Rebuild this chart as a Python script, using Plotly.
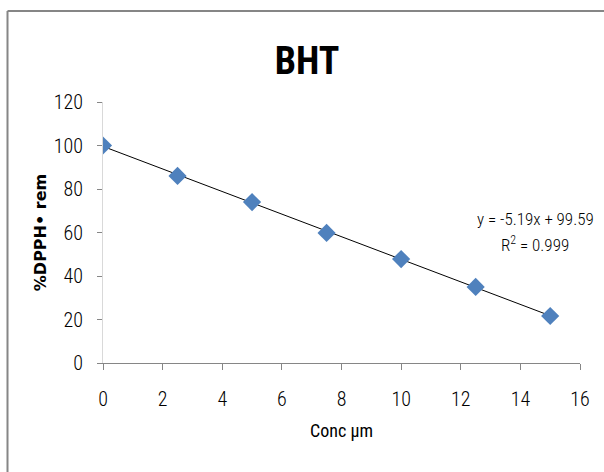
import plotly.graph_objects as go

conc = [0, 2.5, 5, 7.5, 10, 12.5, 15]
dpph_rem = [100, 86, 74, 59.8, 47.8, 35, 21.6]
slope = -5.19
intercept = 99.59
x_ticks = [0, 2, 4, 6, 8, 10, 12, 14, 16]
y_ticks = [0, 20, 40, 60, 80, 100, 120]

FONT = "Roboto Condensed, sans-serif"

fig = go.Figure()
fit_x = [min(conc), max(conc)]
fit_y = [slope * v + intercept for v in fit_x]
fig.add_trace(go.Scatter(x=fit_x, y=fit_y, mode="lines",
                         line=dict(color="black", width=1), showlegend=False))
fig.add_trace(go.Scatter(x=conc, y=dpph_rem, mode="markers",
                         marker=dict(symbol="diamond", size=14, color="#4F81BD",
                                     line=dict(width=0)), showlegend=False))

fig.update_layout(
    width=604, height=472,
    margin=dict(l=103, r=24, t=102, b=109),
    paper_bgcolor="white", plot_bgcolor="white",
    font=dict(family=FONT, size=14, color="black", weight=300),
    title=dict(text="BHT", x=307/604, xanchor="center", y=1-61/472, yanchor="middle",
               font=dict(family=FONT, size=38, color="black", weight=700)),
    xaxis=dict(range=[0, 16], tickvals=x_ticks, showgrid=False, zeroline=False,
               showline=True, linecolor="#868686", linewidth=1,
               ticks="outside", ticklen=6, tickcolor="#868686",
               ticklabelstandoff=12,
               tickfont=dict(family=FONT, size=20, weight=300),
               title=dict(text="Conc µm", font=dict(family=FONT, size=18, weight=400), standoff=14)),
    yaxis=dict(range=[0, 120], tickvals=y_ticks, showgrid=False, zeroline=False,
               showline=True, linecolor="#D9D9D9", linewidth=1,
               ticks="outside", ticklen=5, tickcolor="#868686",
               ticklabelstandoff=10,
               tickfont=dict(family=FONT, size=20, weight=300),
               title=dict(text="<b>%DPPH• rem</b>", font=dict(family="DejaVu Sans, sans-serif", size=16), standoff=3)),
)

fig.add_annotation(xref="paper", yref="paper", x=(535-103)/477, y=(363-219)/261,
                   text="y = -5.19x + 99.59", showarrow=False,
                   font=dict(family=FONT, size=17, weight=300), xanchor="center", yanchor="middle")
fig.add_annotation(xref="paper", yref="paper", x=(535-103)/477, y=(363-244)/261,
                   text="R<sup>2</sup> = 0.999", showarrow=False,
                   font=dict(family=FONT, size=17, weight=300), xanchor="center", yanchor="middle")

bx = (7.5-103)/477
by = (363-11)/261
fig.add_shape(type="line", xref="paper", yref="paper", x0=bx, x1=1.2, y0=by, y1=by,
              line=dict(color="#868686", width=2), layer="below")
fig.add_shape(type="line", xref="paper", yref="paper", x0=bx, x1=bx, y0=by, y1=-0.6,
              line=dict(color="#868686", width=2), layer="below")

fig.write_html("out.html")
